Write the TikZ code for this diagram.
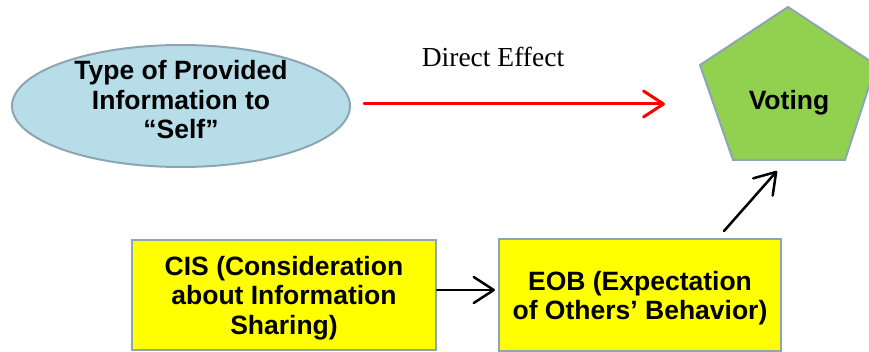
\documentclass[tikz,border=0pt]{standalone}
\usepackage{fontspec}
\setmainfont{Liberation Serif}
\setsansfont{Liberation Sans}
\usetikzlibrary{arrows.meta,shapes.geometric}
\definecolor{ellc}{HTML}{B7DEE8}
\definecolor{bordc}{HTML}{8EA5B4}
\definecolor{vgreen}{HTML}{92D050}
\definecolor{ybox}{HTML}{FFFF00}
\definecolor{rarr}{HTML}{FF0000}
\begin{document}
\begin{tikzpicture}[x=1pt,y=-1pt,
  lbl/.style={font=\sffamily\bfseries\fontsize{26.5}{29.5}\selectfont, align=center, text=black, inner sep=0pt},
  bord/.style={draw=bordc, line width=2pt},
  arr/.style={-{Straight Barb[length=20pt,width=26pt,line join=round,line cap=round]}, line width=2.5pt, line cap=round},
  box/.style={rectangle, bord, fill=ybox, inner sep=0pt}
]
\useasboundingbox (0,0) rectangle (869,352);
\node[ellipse, bord, fill=ellc, minimum width=338pt, minimum height=122pt, inner sep=0pt] (src) at (181,106) {};
\node[lbl] (srct) at (181,100) {Type of Provided\\Information to\\“Self”};
\draw[bord, fill=vgreen] (788,7) coordinate (vt) -- (876,65) coordinate (vr) -- (845,160) coordinate (vbr) -- (733,160) coordinate (vbl) -- (700,65) coordinate (vl) -- cycle;
\node[lbl] (vote) at (789,102.5) {Voting};
\node[box, minimum width=304pt, minimum height=110pt] (cis) at (284,295) {};
\node[lbl] (cist) at (284,298) {CIS (Consideration\\about Information\\Sharing)};
\node[box, minimum width=282pt, minimum height=112pt] (eob) at (640,295) {};
\node[lbl] (eobt) at (640,298) {EOB (Expectation\\of Others’ Behavior)};
\node[font=\fontsize{27.5}{30}\selectfont] (de) at (493,57) {Direct Effect};
\coordinate (redstart) at (364,104);
\coordinate (redend) at (665,104);
\coordinate (dstart) at (724,231);
\coordinate (dend) at (777,171);
\draw[arr, draw=rarr, line width=3pt] (redstart) -- (redend);
\draw[arr] ([yshift=5pt]cis.east) -- ([yshift=5pt,xshift=-3pt]eob.west);
\draw[arr] (dstart) -- (dend);
\end{tikzpicture}
\end{document}
